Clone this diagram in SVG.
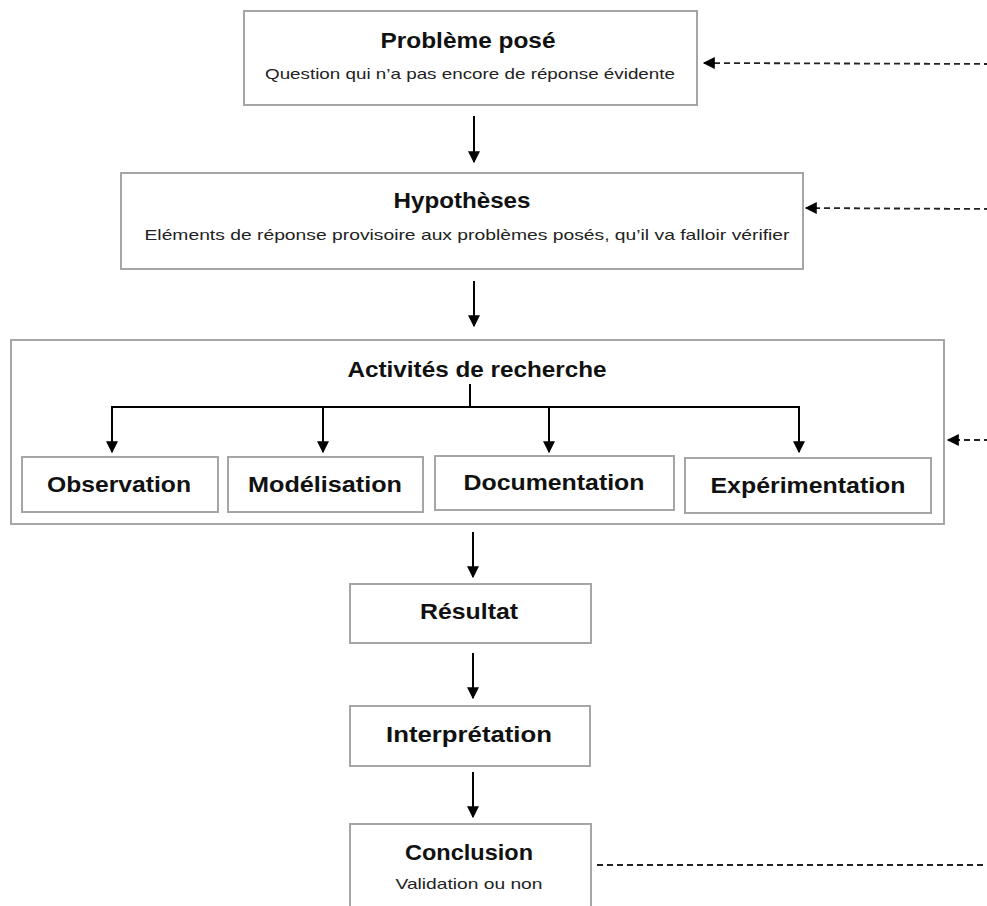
<svg xmlns="http://www.w3.org/2000/svg" width="987" height="906" viewBox="0 0 987 906">
<style>
.box{fill:#fff;stroke:#a6a6a6;stroke-width:2}
.t{font-family:"Liberation Sans",Arial,sans-serif;font-weight:bold;font-size:22px;fill:#111;text-anchor:middle}
.s{font-family:"Liberation Sans",Arial,sans-serif;font-size:15px;fill:#222;text-anchor:middle}
.a{stroke:#000;stroke-width:2;fill:none}
.d{stroke:#222;stroke-width:1.8;stroke-dasharray:6 4;fill:none}
</style>
<defs>
<marker id="ah" viewBox="0 0 10 10" refX="9" refY="5" markerWidth="12" markerHeight="12" markerUnits="userSpaceOnUse" orient="auto">
<path d="M0,0 L10,5 L0,10 z" fill="#000"/>
</marker>
<marker id="dh" viewBox="0 0 10 10" refX="9" refY="5" markerWidth="15" markerHeight="12" markerUnits="userSpaceOnUse" orient="auto">
<path d="M0,0 L10,5 L0,10 z" fill="#000"/>
</marker>
</defs>
<rect width="987" height="906" fill="#fff"/>

<g id="probleme">
<rect class="box" x="244" y="11" width="453" height="94"/>
<text class="t" x="468" y="48" textLength="175" lengthAdjust="spacingAndGlyphs">Problème posé</text>
<text class="s" x="470" y="79" textLength="410" lengthAdjust="spacingAndGlyphs">Question qui n’a pas encore de réponse évidente</text>
</g>

<g id="hypotheses">
<rect class="box" x="121" y="173" width="682" height="96"/>
<text class="t" x="462" y="208" textLength="137" lengthAdjust="spacingAndGlyphs">Hypothèses</text>
<text class="s" x="467" y="240" textLength="645" lengthAdjust="spacingAndGlyphs">Eléments de réponse provisoire aux problèmes posés, qu’il va falloir vérifier</text>
</g>

<g id="activites">
<rect class="box" x="11" y="340" width="933" height="184"/>
<text class="t" x="477" y="377" textLength="259" lengthAdjust="spacingAndGlyphs">Activités de recherche</text>
</g>

<g id="observation">
<rect class="box" x="22" y="457" width="196" height="55"/>
<text class="t" x="119" y="492" textLength="144" lengthAdjust="spacingAndGlyphs">Observation</text>
</g>
<g id="modelisation">
<rect class="box" x="228" y="457" width="195" height="55"/>
<text class="t" x="325" y="492" textLength="154" lengthAdjust="spacingAndGlyphs">Modélisation</text>
</g>
<g id="documentation">
<rect class="box" x="435" y="456" width="239" height="54"/>
<text class="t" x="554" y="490" textLength="181" lengthAdjust="spacingAndGlyphs">Documentation</text>
</g>
<g id="experimentation">
<rect class="box" x="685" y="458" width="246" height="55"/>
<text class="t" x="808" y="493" textLength="195" lengthAdjust="spacingAndGlyphs">Expérimentation</text>
</g>

<g id="resultat">
<rect class="box" x="350" y="584" width="241" height="59"/>
<text class="t" x="469" y="619" textLength="98" lengthAdjust="spacingAndGlyphs">Résultat</text>
</g>
<g id="interpretation">
<rect class="box" x="350" y="706" width="240" height="60"/>
<text class="t" x="469" y="742" textLength="166" lengthAdjust="spacingAndGlyphs">Interprétation</text>
</g>
<g id="conclusion">
<rect class="box" x="350" y="824" width="241" height="100"/>
<text class="t" x="469" y="860" textLength="128" lengthAdjust="spacingAndGlyphs">Conclusion</text>
<text class="s" x="469" y="889" textLength="147" lengthAdjust="spacingAndGlyphs">Validation ou non</text>
</g>

<g id="connectors">
<line class="a" x1="474" y1="116" x2="474" y2="162" marker-end="url(#ah)"/>
<line class="a" x1="474" y1="281" x2="474" y2="326" marker-end="url(#ah)"/>
<polyline class="a" points="470,384 470,407"/>
<polyline class="a" points="112,452 112,407 799,407 799,452"/>
<line class="a" x1="112" y1="407" x2="112" y2="452" marker-end="url(#ah)"/>
<line class="a" x1="323" y1="407" x2="323" y2="452" marker-end="url(#ah)"/>
<line class="a" x1="549" y1="407" x2="549" y2="452" marker-end="url(#ah)"/>
<line class="a" x1="799" y1="407" x2="799" y2="452" marker-end="url(#ah)"/>
<line class="a" x1="473" y1="532" x2="473" y2="577" marker-end="url(#ah)"/>
<line class="a" x1="473" y1="653" x2="473" y2="698" marker-end="url(#ah)"/>
<line class="a" x1="473" y1="772" x2="473" y2="817" marker-end="url(#ah)"/>
<line class="d" x1="990" y1="64" x2="704" y2="63" marker-end="url(#dh)"/>
<line class="d" x1="990" y1="209" x2="806" y2="208" marker-end="url(#dh)"/>
<line class="d" x1="990" y1="440" x2="948" y2="440" marker-end="url(#dh)"/>
<line class="d" x1="597" y1="865" x2="990" y2="865"/>
</g>
</svg>
